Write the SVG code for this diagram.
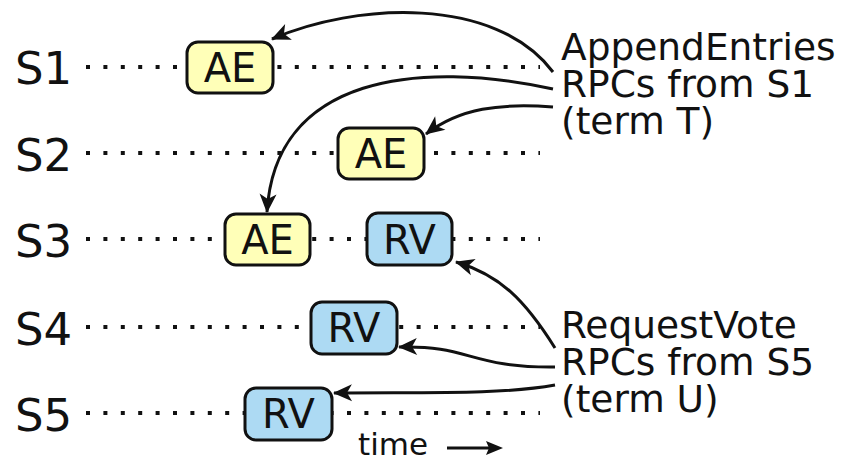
<svg xmlns="http://www.w3.org/2000/svg" width="858" height="464" viewBox="0 0 858 464">
<style>
text{font-family:"DejaVu Sans","Liberation Sans",sans-serif;fill:#111}
.lbl{font-size:45px}
.note{font-size:37.5px}
.btxt{font-size:40px;text-anchor:middle}
.dots{stroke:#111;stroke-width:4;stroke-dasharray:4 13.4;fill:none}
.box{stroke:#111;stroke-width:3}
.ae{fill:#ffffb8}
.rv{fill:#addaf3}
.conn{fill:none;stroke:#111;stroke-width:3;marker-end:url(#ah)}
</style>
<defs>
<marker id="ah" markerUnits="userSpaceOnUse" markerWidth="24" markerHeight="20" viewBox="-19 -10 21 20" refX="0" refY="0" orient="auto">
<path d="M1,0 L-18,-8.5 L-13,0 L-18,8.5 Z" fill="#111"/>
</marker>
</defs>
<rect width="858" height="464" fill="#fff"/>
<g id="timelines">
<line class="dots" x1="86" y1="67" x2="540" y2="67"/>
<line class="dots" x1="86" y1="153" x2="540" y2="153"/>
<line class="dots" x1="86" y1="239" x2="540" y2="239"/>
<line class="dots" x1="86" y1="327" x2="540" y2="327"/>
<line class="dots" x1="86" y1="413" x2="540" y2="413"/>
</g>
<g id="labels">
<text class="lbl" x="15" y="84">S1</text>
<text class="lbl" x="15" y="171">S2</text>
<text class="lbl" x="15" y="257">S3</text>
<text class="lbl" x="15" y="345">S4</text>
<text class="lbl" x="15" y="431">S5</text>
</g>
<g id="s1-ae"><rect class="box ae" x="187" y="42" width="86" height="51" rx="11"/><text class="btxt" x="230" y="82">AE</text></g>
<g id="s2-ae"><rect class="box ae" x="338" y="128" width="86" height="51" rx="11"/><text class="btxt" x="381" y="168">AE</text></g>
<g id="s3-ae"><rect class="box ae" x="225" y="214" width="85" height="51" rx="11"/><text class="btxt" x="267.5" y="254">AE</text></g>
<g id="s3-rv"><rect class="box rv" x="367" y="213" width="85" height="52" rx="11"/><text class="btxt" x="409.5" y="254">RV</text></g>
<g id="s4-rv"><rect class="box rv" x="311" y="302" width="86" height="52" rx="11"/><text class="btxt" x="354" y="342">RV</text></g>
<g id="s5-rv"><rect class="box rv" x="245" y="388" width="87" height="52" rx="11"/><text class="btxt" x="288.5" y="428">RV</text></g>
<g id="ae-note">
<text class="note" x="561" y="60">AppendEntries</text>
<text class="note" x="561" y="97">RPCs from S1</text>
<text class="note" x="561" y="134">(term T)</text>
</g>
<g id="rv-note">
<text class="note" x="561" y="338">RequestVote</text>
<text class="note" x="561" y="375">RPCs from S5</text>
<text class="note" x="561" y="412">(term U)</text>
</g>
<g id="time">
<text x="358" y="455" style="font-size:31px">time</text>
<line x1="447" y1="448" x2="490" y2="448" stroke="#111" stroke-width="3"/>
<path d="M503,448 L486,441 L489,448 L486,455 Z" fill="#111"/>
</g>
<g id="connectors">
<path class="conn" d="M553,72 C495,-5 355,3 272,39"/>
<path class="conn" d="M553,89 C420,60 275,75 267,212"/>
<path class="conn" d="M553,107 C500,103 460,108 426,134"/>
<path class="conn" d="M555,348 C525,300 500,275 456,262"/>
<path class="conn" d="M555,367 C470,368 470,345 399,347"/>
<path class="conn" d="M555,385 C500,395 420,392 334,393"/>
</g>
</svg>
